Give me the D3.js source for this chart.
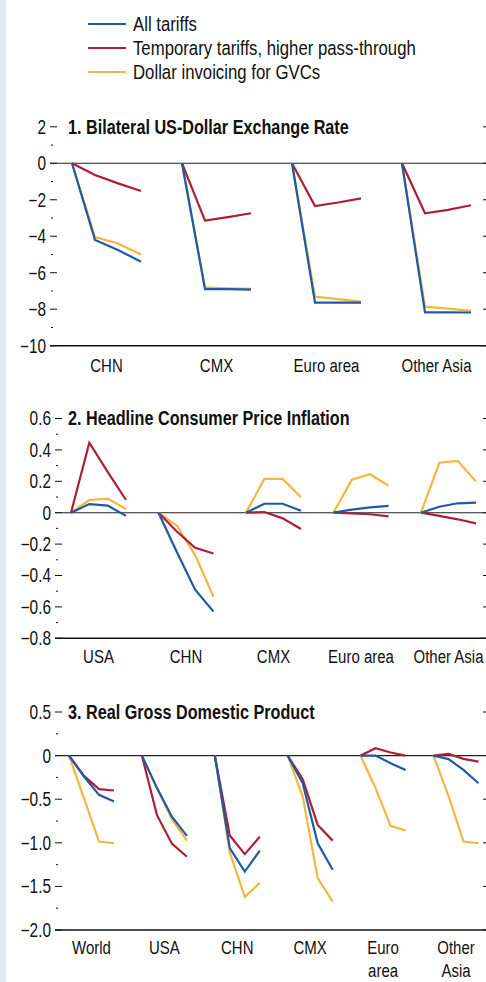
<!DOCTYPE html>
<meta charset="utf-8">
<html>
<head>
<style>
  body { margin: 0; background: #fff; }
  svg { display: block; }
  text { font-family: "Liberation Sans", Arial, sans-serif; fill: #111; }
</style>
</head>
<body>
<script src="https://cdn.jsdelivr.net/npm/d3@7"></script>
<script>

var width = 486, height = 982;

var seriesNames = ["All tariffs", "Temporary tariffs, higher pass-through", "Dollar invoicing for GVCs"];
var seriesColors = ["#1d5ba6", "#ac1f35", "#f4b63f"];

// panel 1 - bilateral US dollar exchange rate
var fxCategories = ["CHN", "CMX", "Euro area", "Other Asia"];
var fxAll    = [[0, -4.2, -4.75, -5.4], [0, -6.9, -6.9, -6.93], [0, -7.64, -7.64, -7.64], [0, -8.17, -8.17, -8.18]];
var fxTemp   = [[0, -0.64, -1.1, -1.52], [0, -3.14, -2.95, -2.74], [0, -2.34, -2.15, -1.92], [0, -2.74, -2.55, -2.3]];
var fxDollar = [[0, -4.05, -4.4, -5.0], [0, -6.8, -6.85, -6.88], [0, -7.31, -7.45, -7.58], [0, -7.86, -7.97, -8.09]];
var fxTicks = [2, 0, -2, -4, -6, -8, -10];

// panel 2 - headline CPI inflation
var cpiCategories = ["USA", "CHN", "CMX", "Euro area", "Other Asia"];
var cpiAll    = [[0, 0.055, 0.045, -0.02], [0, -0.25, -0.49, -0.63], [0, 0.057, 0.057, 0.013], [0, 0.02, 0.034, 0.043], [0, 0.038, 0.06, 0.064]];
var cpiTemp   = [[0, 0.446, 0.26, 0.081], [0, -0.12, -0.223, -0.26], [0, 0.004, -0.036, -0.104], [0, -0.005, -0.01, -0.023], [0, -0.02, -0.042, -0.068]];
var cpiDollar = [[0, 0.081, 0.09, 0.024], [0, -0.083, -0.27, -0.535], [0, 0.215, 0.215, 0.098], [0, 0.21, 0.245, 0.172], [0, 0.318, 0.33, 0.198]];
var cpiTicks = [0.6, 0.4, 0.2, 0, -0.2, -0.4, -0.6, -0.8];

// panel 3 - real GDP
var gdpCategories = ["World", "USA", "CHN", "CMX", "Euro area", "Other Asia"];
var gdpAll    = [[0, -0.24, -0.45, -0.527], [0, -0.37, -0.7, -0.92], [0, -1.06, -1.33, -1.09], [0, -0.317, -1.005, -1.31], [0, 0, -0.087, -0.164], [0, -0.04, -0.164, -0.317]];
var gdpTemp   = [[0, -0.233, -0.385, -0.4], [0, -0.68, -1.01, -1.16], [0, -0.917, -1.13, -0.93], [0, -0.27, -0.795, -0.975], [0, 0.085, 0.035, 0], [0, 0.02, -0.038, -0.069]];
var gdpDollar = [[0, -0.49, -0.986, -1.005], [0, -0.37, -0.73, -0.975], [0, -1.11, -1.62, -1.46], [0, -0.47, -1.406, -1.674], [0, -0.374, -0.806, -0.86], [0, -0.462, -0.986, -1.005]];
var gdpTicks = [0.5, 0, -0.5, -1.0, -1.5, -2.0];

var svg = d3.select("body").append("svg")
    .attr("width", width)
    .attr("height", height);

// pale strip down the left edge
svg.append("rect").attr("x", 0).attr("y", 0).attr("width", 6).attr("height", height).attr("fill", "#e4e8f5");

// legend
var legend = svg.append("g");
seriesNames.forEach(function(name, i) {
  var y = 24 + i * 24;
  legend.append("line").attr("x1", 88).attr("x2", 126).attr("y1", y).attr("y2", y)
    .attr("stroke", seriesColors[i]).attr("stroke-width", 2.2);
  legend.append("text").attr("class", i == 1 ? "leg ref" : "leg")
    .attr("x", 133).attr("y", y + 6.8).attr("font-size", 19.5).text(name);
});

function minus(s) { return s.replace("-", "\u2212"); }

function panel(opt) {
  var g = svg.append("g");
  var y = d3.scaleLinear().domain(opt.domain).range(opt.yRange);
  var n = opt.categories.length;
  var gap = opt.groupStep - opt.span;
  var r0 = opt.firstStart - gap / 2;
  var x = d3.scaleBand().domain(opt.categories)
      .range([r0, r0 + n * opt.groupStep])
      .paddingInner(gap / opt.groupStep)
      .paddingOuter(gap / opt.groupStep / 2);
  var xi = d3.scalePoint().domain([0, 1, 2, 3]).range([0, x.bandwidth()]);

  // ticks left & right
  var step = opt.ticks[0] - opt.ticks[1];
  opt.ticks.forEach(function(t, k) {
    var yy = y(t);
    g.append("line").attr("x1", opt.axisX).attr("x2", opt.axisX + 7).attr("y1", yy).attr("y2", yy)
      .attr("stroke", "#111").attr("stroke-width", 1);
    g.append("line").attr("x1", 483).attr("x2", 486).attr("y1", yy).attr("y2", yy)
      .attr("stroke", "#111").attr("stroke-width", 1);
    g.append("text").attr("class", "lab").attr("x", opt.axisX - 4).attr("y", yy + 7)
      .attr("text-anchor", "end").attr("font-size", 19.5).text(minus(opt.fmt(t)));
    if (k < opt.ticks.length - 1) {
      var ym = y(t - step / 2);
      g.append("line").attr("x1", opt.axisX + 1).attr("x2", opt.axisX + 3).attr("y1", ym).attr("y2", ym)
        .attr("stroke", "#111").attr("stroke-width", 1);
    }
  });

  // zero line and base line
  g.append("line").attr("x1", opt.axisX).attr("x2", width).attr("y1", y(0)).attr("y2", y(0))
    .attr("stroke", "#222").attr("stroke-width", 1.1);
  g.append("line").attr("x1", opt.axisX).attr("x2", width).attr("y1", y(opt.domain[0])).attr("y2", y(opt.domain[0]))
    .attr("stroke", "#111").attr("stroke-width", 1.6);

  // title
  g.append("text").attr("class", opt.refTitle ? "bold ref" : "bold").attr("x", 68).attr("y", y(opt.domain[1]) + 7)
    .attr("font-size", 20).attr("font-weight", "bold").text(opt.title);

  // category labels
  opt.categories.forEach(function(c, i) {
    var lines = opt.labelLines ? opt.labelLines[i] : [c];
    var t = g.append("text").attr("class", opt.refTitle && i == n - 1 ? "lab ref" : "lab")
      .attr("x", x(c) + x.bandwidth() / 2).attr("y", opt.labelY)
      .attr("text-anchor", "middle").attr("font-size", 19);
    lines.forEach(function(l, j) {
      t.append("tspan").attr("x", x(c) + x.bandwidth() / 2).attr("dy", j ? 23 : 0).text(l);
    });
  });

  var line = d3.line().x(function(d, j) { return xi(j); }).y(function(d) { return y(d); });
  // draw yellow, red, blue so blue sits on top
  [2, 1, 0].forEach(function(s) {
    opt.series[s].forEach(function(vals, i) {
      g.append("path").datum(vals)
        .attr("transform", "translate(" + x(opt.categories[i]) + ",0)")
        .attr("d", line).attr("fill", "none")
        .attr("stroke", seriesColors[s]).attr("stroke-width", 2.2)
        .attr("stroke-linejoin", "miter");
    });
  });
}

panel({
  title: "1. Bilateral US-Dollar Exchange Rate", refTitle: true,
  categories: fxCategories, series: [fxAll, fxTemp, fxDollar],
  ticks: fxTicks, domain: [-10, 2], yRange: [345.7, 126.8],
  fmt: d3.format("d"), axisX: 50,
  firstStart: 72, groupStep: 110, span: 69, labelY: 372
});

panel({
  title: "2. Headline Consumer Price Inflation",
  categories: cpiCategories, series: [cpiAll, cpiTemp, cpiDollar],
  ticks: cpiTicks, domain: [-0.8, 0.6], yRange: [638.3, 418.5],
  fmt: function(v) { return v === 0 ? "0" : d3.format(".1f")(v); }, axisX: 55,
  firstStart: 71, groupStep: 87.5, span: 55, labelY: 663
});

panel({
  title: "3. Real Gross Domestic Product",
  categories: gdpCategories, series: [gdpAll, gdpTemp, gdpDollar],
  labelLines: [["World"], ["USA"], ["CHN"], ["CMX"], ["Euro", "area"], ["Other", "Asia"]],
  ticks: gdpTicks, domain: [-2.0, 0.5], yRange: [930, 712],
  fmt: function(v) { return v === 0 ? "0" : d3.format(".1f")(v); }, axisX: 55,
  firstStart: 69, groupStep: 72.9, span: 45, labelY: 954
});

// condensed look: squeeze text horizontally so it matches the narrow face of the original
function w(sel) { return svg.select(sel).node().getComputedTextLength(); }
var squeeze = {
  leg: 283 / w("text.leg.ref"),
  bold: 281 / w("text.bold.ref"),
  lab: 70 / w("text.lab.ref")
};
svg.selectAll("text").each(function() {
  var t = d3.select(this);
  var s = t.classed("bold") ? squeeze.bold : t.classed("leg") ? squeeze.leg : squeeze.lab;
  var x = +t.attr("x"), y = +t.attr("y");
  t.attr("transform", "translate(" + x + "," + y + ") scale(" + s + ",1) translate(" + (-x) + "," + (-y) + ")");
});

</script>
</body>
</html>
